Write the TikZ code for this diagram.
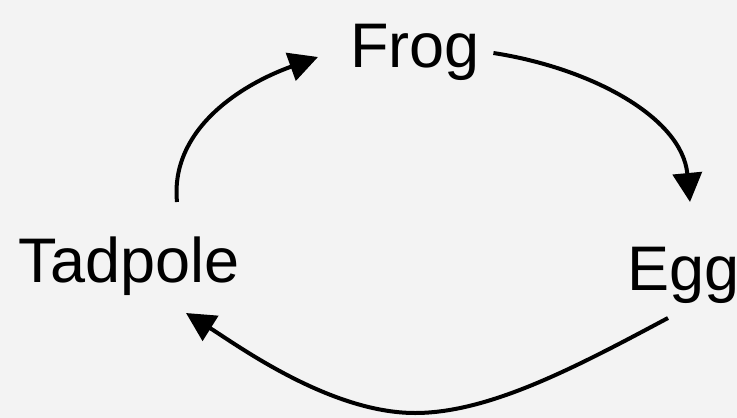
\documentclass[tikz,border=0pt]{standalone}
\usepackage{fontspec}
\setmainfont{Liberation Sans}
\usetikzlibrary{arrows.meta}
\definecolor{paper}{HTML}{F3F3F3}
\tikzset{
  stage/.style={inner sep=0pt, anchor=base west, font=\fontsize{63}{70}\selectfont, text=black},
  cyclearrow/.style={line width=4pt, -{Triangle[length=29pt,width=29pt]}}
}
\begin{document}
\begin{tikzpicture}[x=1pt,y=-1pt]
  \useasboundingbox (0,0) rectangle (737,418);
  \fill[paper] (0,0) rectangle (737,418);

  % the three stages of the life cycle
  \node[stage] (frog) at (350,67) {Frog};
  \node[stage] (tad) at (18.5,282) {Tadpole};
  \node[stage] (egg) at (627,290) {Egg};

  % Tadpole -> Frog
  \draw[cyclearrow] ([shift={(158.5,-80)}]tad.base west)
    .. controls +(-7,-72) and +(-78,28) .. ([shift={(-32,-10)}]frog.base west);
  % Frog -> Egg
  \draw[cyclearrow] ([shift={(13.5,-14)}]frog.base east)
    .. controls +(97,15) and +(-8,-85) .. ([shift={(63,-88)}]egg.base west);
  % Egg -> Tadpole
  \draw[cyclearrow] ([shift={(41,28)}]egg.base west)
    .. controls +(-90,48) and +(75,0) .. (415,413)
    .. controls +(-85,0) and +(51,32) .. ([shift={(167.5,31)}]tad.base west);
\end{tikzpicture}
\end{document}
